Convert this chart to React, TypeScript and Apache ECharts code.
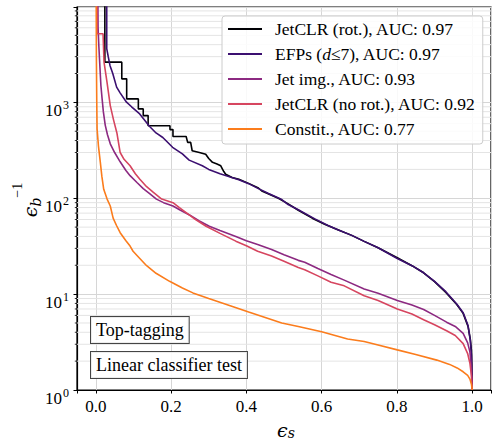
import React, { useEffect, useRef } from "react";
import * as echarts from "echarts";

const FONT = "Liberation Serif";
const MATH_FONT = "DejaVu Serif";

const NAMES = [
  "JetCLR (rot.), AUC: 0.97",
  "EFPs (d≤7), AUC: 0.97",
  "Jet img., AUC: 0.93",
  "JetCLR (no rot.), AUC: 0.92",
  "Constit., AUC: 0.77",
];
const COLORS = ["#000004", "#3b0f70", "#8c2981", "#d6455f", "#fb7c1c"];

// [signal efficiency, inverse background efficiency]
const JETCLR_ROT: [number, number][] = [
  [0.024, 20000], [0.024, 2630], [0.069, 2630], [0.069, 1760], [0.082, 1760], [0.082, 1088],
  [0.113, 1088], [0.113, 855], [0.126, 855], [0.126, 728], [0.139, 728], [0.139, 571],
  [0.197, 571], [0.197, 520], [0.205, 520], [0.205, 440], [0.24, 440], [0.244, 383],
  [0.252, 383], [0.256, 313], [0.275, 300], [0.292, 288], [0.3, 260], [0.31, 237],
  [0.322, 228], [0.332, 218], [0.34, 190], [0.345, 178], [0.362, 165], [0.38, 158],
  [0.406, 143], [0.432, 128], [0.441, 119], [0.485, 100], [0.51, 88], [0.538, 75],
  [0.575, 62], [0.608, 53.5], [0.643, 47], [0.68, 41], [0.713, 35.5], [0.75, 30.5],
  [0.801, 24], [0.84, 19.8], [0.871, 16.7], [0.9, 13.5], [0.93, 10.4], [0.959, 7.8],
  [0.976, 6.3], [0.989, 4.6], [0.995, 3.4], [0.998, 2.6], [0.999, 1.8], [1.0, 1.0],
];
const EFPS: [number, number][] = [
  [0.029, 20000], [0.029, 3630], [0.033, 3000], [0.0376, 2430], [0.045, 2000], [0.0553, 1443],
  [0.065, 1250], [0.0816, 1005], [0.095, 900], [0.1166, 758], [0.143, 560], [0.16, 480],
  [0.178, 430], [0.204, 340], [0.23, 290], [0.248, 250], [0.283, 218], [0.3, 200],
  [0.33, 180], [0.353, 169], [0.38, 156], [0.406, 142], [0.432, 126], [0.459, 112],
  [0.494, 97], [0.511, 86], [0.538, 76], [0.582, 61], [0.617, 52], [0.643, 47],
  [0.68, 41], [0.713, 35.5], [0.75, 30.5], [0.801, 23.5], [0.84, 19.8], [0.871, 16.7],
  [0.9, 13.6], [0.93, 10.6], [0.959, 7.9], [0.976, 6.4], [0.989, 4.7], [0.995, 3.3],
  [0.998, 2.3], [1.0, 1.0],
];
const JET_IMG: [number, number][] = [
  [0.005, 20000], [0.006, 6000], [0.008, 3900], [0.011, 2300], [0.0135, 1500], [0.0166, 1100],
  [0.02, 800], [0.025, 580], [0.031, 460], [0.0384, 370], [0.05, 300], [0.0647, 240],
  [0.08, 195], [0.091, 172], [0.11, 145], [0.126, 126], [0.143, 112], [0.161, 98],
  [0.18, 90], [0.205, 83], [0.225, 75], [0.249, 67], [0.275, 58], [0.3016, 51],
  [0.33, 46], [0.372, 40], [0.4, 36], [0.43, 33], [0.467, 29.2], [0.5, 25.8],
  [0.538, 22.5], [0.555, 21.5], [0.59, 18.5], [0.625, 16], [0.66, 14], [0.713, 11.3],
  [0.75, 10.2], [0.801, 8.6], [0.84, 7.7], [0.871, 6.9], [0.9, 6.0], [0.932, 5.1],
  [0.955, 4.6], [0.976, 3.9], [0.988, 3.1], [0.994, 2.5], [0.998, 1.7], [1.0, 1.0],
];
const JETCLR_NOROT: [number, number][] = [
  [0.0034, 20000], [0.0034, 5200], [0.0192, 5200], [0.0218, 2630], [0.0297, 1624], [0.0384, 926],
  [0.0474, 650], [0.056, 480], [0.0647, 300], [0.075, 255], [0.091, 218], [0.105, 180],
  [0.117, 158], [0.135, 132], [0.153, 115], [0.175, 98], [0.205, 90], [0.222, 80],
  [0.24, 71], [0.265, 60], [0.293, 51], [0.33, 43], [0.372, 35.7], [0.4, 32],
  [0.43, 28], [0.467, 25], [0.5, 22], [0.538, 19], [0.555, 18], [0.59, 15.5],
  [0.625, 13.3], [0.66, 12.2], [0.713, 9.6], [0.75, 8.6], [0.801, 7.0], [0.84, 6.2],
  [0.871, 5.4], [0.9, 4.8], [0.932, 4.15], [0.955, 3.7], [0.976, 3.05], [0.988, 2.4],
  [0.994, 1.9], [0.998, 1.4], [1.0, 1.0],
];
const CONSTIT: [number, number][] = [
  [0.0008, 20000], [0.0015, 3000], [0.0025, 1000], [0.0034, 528], [0.007, 350], [0.012, 237],
  [0.016, 170], [0.021, 124], [0.03, 98], [0.0384, 83], [0.046, 62], [0.055, 52],
  [0.0647, 43.7], [0.08, 36], [0.091, 31.7], [0.099, 28], [0.115, 24], [0.135, 19.8],
  [0.16, 16.5], [0.196, 13.6], [0.23, 11.6], [0.258, 10.3], [0.3, 9.0], [0.363, 7.45],
  [0.406, 6.5], [0.45, 5.7], [0.494, 5.0], [0.538, 4.6], [0.6, 4.05], [0.669, 3.4],
  [0.713, 3.2], [0.75, 2.95], [0.801, 2.62], [0.85, 2.35], [0.906, 2.05], [0.94, 1.85],
  [0.96, 1.7], [0.976, 1.55], [0.988, 1.42], [0.994, 1.3], [0.998, 1.15], [1.0, 1.0],
];
const SERIES_DATA = [JETCLR_ROT, EFPS, JET_IMG, JETCLR_NOROT, CONSTIT];

const X_MIN = -0.05;
const X_MAX = 1.05;
const Y_MIN = 1;
const Y_MAX = Math.pow(10, 3.995);
const Y_MINOR = [
  2, 3, 4, 5, 6, 7, 8, 9,
  20, 30, 40, 50, 60, 70, 80, 90,
  200, 300, 400, 500, 600, 700, 800, 900,
  2000, 3000, 4000, 5000, 6000, 7000, 8000, 9000,
];

export default function App() {
  const ref = useRef<HTMLDivElement>(null);
  useEffect(() => {
    const chart = echarts.init(ref.current!, null, { renderer: "svg" });
    const lineSeries = SERIES_DATA.map((d, i) => ({
      name: NAMES[i],
      type: "line",
      data: d,
      symbol: "none",
      showSymbol: false,
      clip: true,
      z: 3 + i,
      lineStyle: { color: COLORS[i], width: 1.6 },
      itemStyle: { color: COLORS[i] },
    }));
    const minorSeries = {
      type: "custom",
      silent: true,
      z: 1,
      data: Y_MINOR.map((v) => [0.5, v]),
      encode: { x: 0, y: 1 },
      renderItem: (params: any, api: any) => {
        const cs = params.coordSys;
        const p = api.coord([0.5, api.value(1)]);
        const y = p[1];
        return {
          type: "group",
          children: [
            {
              type: "line",
              shape: { x1: cs.x, y1: y, x2: cs.x + cs.width, y2: y },
              style: { stroke: "#e4e4e4", lineWidth: 1 },
            },
            {
              type: "line",
              shape: { x1: cs.x - 2.2, y1: y, x2: cs.x, y2: y },
              style: { stroke: "#000", lineWidth: 0.8 },
            },
          ],
        };
      },
    };
    const option: any = {
      animation: false,
      backgroundColor: "#fff",
      textStyle: { fontFamily: FONT },
      grid: {
        left: 77,
        top: 7,
        width: 418,
        height: 383,
        show: true,
        borderColor: "#000",
        borderWidth: 1.2,
        backgroundColor: "transparent",
      },
      xAxis: {
        type: "value",
        min: X_MIN,
        max: X_MAX,
        splitNumber: 5,
        axisLine: { show: true, onZero: false, lineStyle: { color: "#000", width: 1.2 } },
        axisTick: { show: true, length: 3.5, lineStyle: { color: "#000", width: 1 } },
        axisLabel: {
          color: "#000",
          fontFamily: FONT,
          fontSize: 17,
          lineHeight: 17,
          margin: 8,
          formatter: (v: number) => {
            const r = Math.round(v / 0.2) * 0.2;
            return Math.abs(r - v) < 1e-6 ? r.toFixed(1) : "";
          },
        },
        splitLine: { show: true, lineStyle: { color: "#d6d6d6", width: 1 } },
      },
      yAxis: {
        type: "log",
        logBase: 10,
        min: Y_MIN,
        max: Y_MAX,
        axisLine: { show: true, onZero: false, lineStyle: { color: "#000", width: 1.2 } },
        axisTick: { show: true, length: 3.5, lineStyle: { color: "#000", width: 1 } },
        axisLabel: {
          color: "#000",
          fontFamily: FONT,
          margin: 8,
          formatter: (v: number) => {
            const e = Math.log10(v);
            const n = Math.round(e);
            if (Math.abs(e - n) > 1e-6 || n < 0 || n > 3) return "";
            return "{b|10}{s|" + n + "}";
          },
          rich: {
            b: { fontFamily: FONT, fontSize: 17, lineHeight: 17, color: "#000", padding: [8, 0, 0, 0], verticalAlign: "top" },
            s: { fontFamily: FONT, fontSize: 12, lineHeight: 12, color: "#000", padding: [5, 0, 0, 1], verticalAlign: "top" },
          },
        },
        splitLine: { show: true, lineStyle: { color: "#d6d6d6", width: 1 } },
      },
      legend: {
        show: true,
        data: NAMES,
        orient: "vertical",
        left: 222,
        top: 16,
        padding: [4, 7, 6, 6],
        icon: "rect",
        itemWidth: 34,
        itemHeight: 2,
        itemGap: 7,
        backgroundColor: "rgba(255,255,255,0.85)",
        borderColor: "#cccccc",
        borderWidth: 1,
        borderRadius: 3,
        formatter: (name: string) =>
          name === NAMES[1] ? "EFPs ({i|d}≤7), AUC: 0.97" : name,
        textStyle: {
          fontFamily: FONT,
          fontSize: 17.5,
          lineHeight: 16,
          color: "#000",
          padding: [0, 0, 0, 8],
          rich: {
            i: { fontFamily: FONT, fontSize: 17.5, lineHeight: 16, fontStyle: "italic", color: "#000" },
          },
        },
      },
      graphic: [
        {
          type: "text",
          x: 91,
          y: 317,
          z: 50,
          style: {
            text: "Top-tagging",
            fontFamily: FONT,
            fontSize: 18,
            lineHeight: 18,
            fill: "#000",
            backgroundColor: "rgba(255,255,255,0.9)",
            borderColor: "#444",
            borderWidth: 1,
            padding: [4, 5, 4, 5],
          },
        },
        {
          type: "text",
          x: 91,
          y: 352,
          z: 50,
          style: {
            text: "Linear classifier test",
            fontFamily: FONT,
            fontSize: 18,
            lineHeight: 18,
            fill: "#000",
            backgroundColor: "rgba(255,255,255,0.9)",
            borderColor: "#444",
            borderWidth: 1,
            padding: [4, 5, 4, 5],
          },
        },
        {
          type: "text",
          x: 286,
          y: 429,
          z: 50,
          style: {
            text: "{e|ϵ}{s|s}",
            align: "center",
            verticalAlign: "middle",
            textAlign: "center",
            textVerticalAlign: "middle",
            fill: "#000",
            rich: {
              e: { fontFamily: MATH_FONT, fontSize: 19, lineHeight: 17, fontStyle: "italic", fill: "#000", verticalAlign: "top" },
              s: { fontFamily: MATH_FONT, fontSize: 14, lineHeight: 13, fontStyle: "italic", fill: "#000", padding: [5, 0, 0, 0], verticalAlign: "top" },
            },
          },
        },
        {
          type: "text",
          x: 18,
          y: 200,
          rotation: Math.PI / 2,
          z: 50,
          style: {
            text: "{e|ϵ}{b|b}{p|−1}",
            align: "center",
            verticalAlign: "middle",
            textAlign: "center",
            textVerticalAlign: "middle",
            fill: "#000",
            rich: {
              e: { fontFamily: MATH_FONT, fontSize: 19, lineHeight: 20, fontStyle: "italic", fill: "#000", padding: [12, 0, 4, 0], verticalAlign: "top" },
              b: { fontFamily: MATH_FONT, fontSize: 14, lineHeight: 15, fontStyle: "italic", fill: "#000", padding: [21, 0, 0, 0], verticalAlign: "top" },
              p: { fontFamily: FONT, fontSize: 14, lineHeight: 14, fill: "#000", padding: [2, 0, 0, 0], verticalAlign: "top" },
            },
          },
        },
      ],
      series: [minorSeries, ...lineSeries],
    };
    chart.setOption(option);
    return () => chart.dispose();
  }, []);
  return (
    <div
      ref={ref}
      style={{ position: "fixed", left: 0, top: 0, width: 494, height: 442, background: "#fff" }}
    />
  );
}
